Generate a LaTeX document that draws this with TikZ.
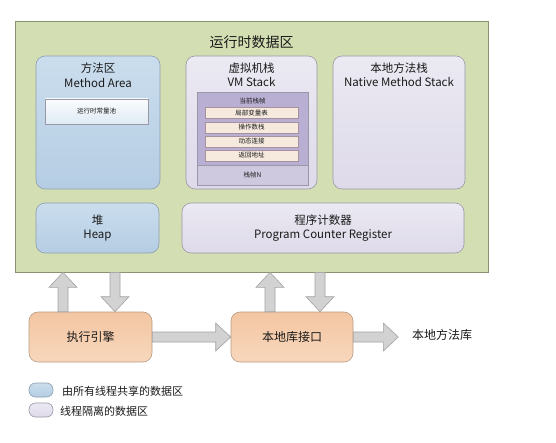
\documentclass[tikz,border=0pt]{standalone}
\usepackage{fontspec}
\setmainfont{Noto Sans CJK SC}
\usetikzlibrary{calc}
\definecolor{grfill}{HTML}{D4DEB3}
\definecolor{grbd}{HTML}{8A9272}
\definecolor{bltop}{HTML}{CADDED}
\definecolor{blbot}{HTML}{B5CDE3}
\definecolor{blbd}{HTML}{8C9EB0}
\definecolor{lvtop}{HTML}{EBE9F2}
\definecolor{lvbot}{HTML}{DEDAEA}
\definecolor{lvbd}{HTML}{9A97A8}
\definecolor{sfdark}{HTML}{B9AFD2}
\definecolor{sflight}{HTML}{CFC9E0}
\definecolor{rowfill}{HTML}{F6EADF}
\definecolor{rowbd}{HTML}{A8919E}
\definecolor{ortop}{HTML}{F3C6A2}
\definecolor{orbot}{HTML}{F8D7BC}
\definecolor{orbd}{HTML}{B59B86}
\definecolor{arfill}{HTML}{D2D2D2}
\definecolor{arbd}{HTML}{A2A2A2}
\definecolor{txt}{HTML}{1A1A1A}
\tikzset{
  shared/.style={draw=blbd, top color=bltop, bottom color=blbot, rounded corners=9pt, line width=0.6pt, inner sep=0pt},
  private/.style={draw=lvbd, top color=lvtop, bottom color=lvbot, rounded corners=9pt, line width=0.6pt, inner sep=0pt},
  engbox/.style={draw=orbd, top color=ortop, bottom color=orbot, rounded corners=9pt, line width=0.6pt, minimum width=123pt, minimum height=50pt, inner sep=0pt, font=\fontsize{12}{14}\selectfont, text=txt},
  boxtitle/.style={align=center, font=\fontsize{11.5}{14.5}\selectfont, text=txt, inner sep=0pt},
  small/.style={font=\fontsize{6.5}{8}\selectfont, text=txt, inner sep=0pt},
  rowbox/.style={draw=rowbd, fill=rowfill, line width=0.4pt, minimum width=93pt, minimum height=11pt, inner sep=0pt, font=\fontsize{6.5}{8}\selectfont, text=txt},
  barrow/.style={draw=arbd, fill=arfill, line width=0.6pt, line join=miter},
  pill/.style={draw=lvbd, rounded corners=6.5pt, minimum width=24pt, minimum height=14pt, inner sep=0pt, line width=0.6pt},
  legtext/.style={anchor=west, font=\fontsize{11}{13}\selectfont, text=txt, inner sep=0pt},
}
\newcommand\blockarrow[2]{%
  \draw[barrow] let \p1=(#1), \p2=(#2), \p3=($(#2)!15pt!(#1)$) in
    ($(\p1)!5pt!90:(\p2)$) -- ($(\p3)!5pt!-90:(\p1)$) -- ($(\p3)!14pt!-90:(\p1)$)
    -- (\p2) -- ($(\p3)!14pt!90:(\p1)$) -- ($(\p3)!5pt!90:(\p1)$)
    -- ($(\p1)!5pt!-90:(\p2)$) -- cycle;}
\begin{document}
\begin{tikzpicture}[x=1pt,y=-1pt]
\useasboundingbox (0,0) rectangle (556,443);
% runtime data area
\node[draw=grbd, fill=grfill, line width=0.7pt, minimum width=473pt, minimum height=251pt, inner sep=0pt] (rda) at (251.5,146.5) {};
\node[font=\fontsize{14}{16}\selectfont, text=txt, inner sep=0pt] (rdat) at (251.5,42) {运行时数据区};
% method area
\node[shared, minimum width=124pt, minimum height=133pt] (ma) at (98,122.5) {};
\node[boxtitle] (mat) at ($(ma.north)+(0,19.5)$) {方法区\\Method Area};
\node[draw=lvbd, top color=white!90!bltop, bottom color=bltop!60!white, line width=0.5pt, minimum width=103pt, minimum height=25pt, inner sep=0pt, small] (rcp) at (96.5,111.5) {运行时常量池};
% VM stack
\node[private, minimum width=131pt, minimum height=133pt] (vms) at (251.5,122.5) {};
\node[boxtitle] (vmst) at ($(vms.north)+(0,19)$) {虚拟机栈\\VM Stack};
\node[draw=lvbd, fill=sflight, line width=0.5pt, minimum width=111pt, minimum height=93pt, inner sep=0pt] (sf) at (252.5,138.5) {};
\node[draw=lvbd, fill=sfdark, line width=0.5pt, minimum width=111pt, minimum height=73pt, inner sep=0pt] (cur) at (252.5,128.5) {};
\node[small] (curt) at (252.5,101) {当前栈帧};
\node[rowbox] (r1) at (251.5,113) {局部变量表};
\node[rowbox] (r2) at (251.5,127.5) {操作数栈};
\node[rowbox] (r3) at (251.5,141.5) {动态连接};
\node[rowbox] (r4) at (251.5,155.5) {返回地址};
\node[small] (sfn) at (252.5,175) {栈帧N};
% native method stack
\node[private, minimum width=132pt, minimum height=133pt] (nms) at (399,122.5) {};
\node[boxtitle] (nmst) at ($(nms.north)+(0,19)$) {本地方法栈\\Native Method Stack};
% heap
\node[shared, minimum width=123pt, minimum height=50pt, boxtitle, font=\fontsize{11.5}{13.5}\selectfont] (heap) at (97.5,228) {堆\\Heap};
% pc register
\node[private, minimum width=282pt, minimum height=50pt, boxtitle, font=\fontsize{11.5}{13.5}\selectfont] (pc) at (323,228) {程序计数器\\Program Counter Register};
% engine and native interface
\node[engbox] (engine) at (90.5,337) {执行引擎};
\node[engbox, minimum width=122pt] (nif) at (292,337) {本地库接口};
\node[font=\fontsize{12}{14}\selectfont, text=txt, inner sep=0pt] (lib) at (442,335) {本地方法库};
% arrows
\coordinate (e1) at ([xshift=-27.5pt]engine.north);
\coordinate (e1t) at (e1 |- rda.south);
\coordinate (e2) at ([xshift=24.5pt]engine.north);
\coordinate (e2t) at (e2 |- rda.south);
\coordinate (n1) at ([xshift=-22pt]nif.north);
\coordinate (n1t) at (n1 |- rda.south);
\coordinate (n2) at ([xshift=28pt]nif.north);
\coordinate (n2t) at (n2 |- rda.south);
\coordinate (libend) at ([xshift=45pt]nif.east);
\blockarrow{e1}{e1t}
\blockarrow{e2t}{e2}
\blockarrow{n1}{n1t}
\blockarrow{n2t}{n2}
\blockarrow{engine.east}{nif.west}
\blockarrow{nif.east}{libend}
% legend
\node[pill, draw=blbd, top color=bltop, bottom color=blbot] (lg1) at (41,390) {};
\node[legtext] (lg1t) at (62,391) {由所有线程共享的数据区};
\node[pill, top color=lvtop, bottom color=lvbot] (lg2) at (41,410) {};
\node[legtext] (lg2t) at (60,411) {线程隔离的数据区};
\end{tikzpicture}
\end{document}
